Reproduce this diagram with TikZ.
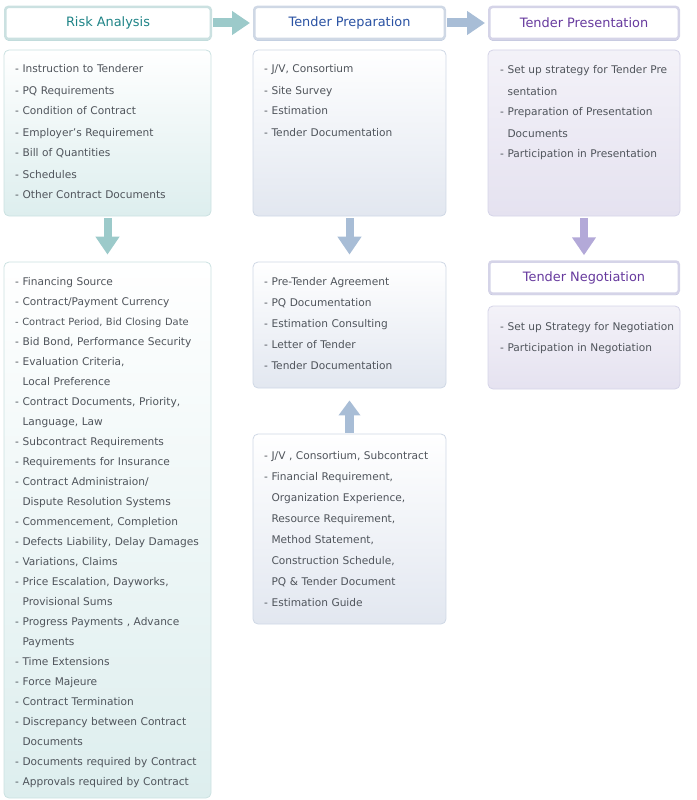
\documentclass[tikz,border=0pt]{standalone}
\usepackage{fontspec}
\setmainfont{DejaVu Sans}
\usepackage{tikz}
\usetikzlibrary{arrows.meta,shadows}

\definecolor{itemgray}{HTML}{4F545B}
\definecolor{riskhead}{HTML}{1F8487}
\definecolor{prephead}{HTML}{2A52A3}
\definecolor{preshead}{HTML}{673A9E}
\definecolor{riskline}{HTML}{CBE1E1}
\definecolor{prepline}{HTML}{CFD8E5}
\definecolor{presline}{HTML}{D5D4E8}
\definecolor{riskshade}{HTML}{A0C8C8}
\definecolor{prepshade}{HTML}{A3B7D2}
\definecolor{presshade}{HTML}{A9ADD0}
\definecolor{riskfill}{HTML}{DDEEEE}
\definecolor{prepfill}{HTML}{E2E7F0}
\definecolor{presfill}{HTML}{E5E2F0}
\definecolor{riskarrow}{HTML}{9CCACA}
\definecolor{preparrow}{HTML}{A8BDD6}
\definecolor{presarrow}{HTML}{B3A9D8}
\newcommand{\wrapin}{\hphantom{-\ }}
\newcommand{\hdfont}{\fontsize{12.9}{15}\selectfont}
\newcommand{\itemfont}{\fontsize{10.6}{21}\selectfont}

\begin{document}
\begin{tikzpicture}[x=1pt,y=-1pt,
  hdbox/.style={draw=#1line, fill=white, line width=2.5pt, rounded corners=3pt,
    minimum height=32pt, font=\hdfont, text=#1head,
    drop shadow={shadow xshift=0pt, shadow yshift=-1.6pt, fill=#1shade, opacity=1}},
  listbox/.style={draw=#1line, line width=0.8pt, rounded corners=5pt,
    top color=white, bottom color=#1fill},
  items/.style={anchor=base west, text width=195pt, align=left, inner sep=0pt,
    font=\itemfont, text=itemgray},
  flowh/.style={line width=9pt, -{Triangle[length=18pt,width=23pt]},
    shorten <=1pt, shorten >=3pt},
  flowv/.style={line width=8pt, -{Triangle[length=18pt,width=23pt]}}]
\useasboundingbox (0,0) rectangle (696,800);

% headers
\node[hdbox=risk, minimum width=205.5pt] (riskhd) at (108,23) {Risk Analysis};
\node[hdbox=prep, minimum width=190.5pt] (prephd) at (349.5,23) {Tender Preparation};
\node[hdbox=pres, minimum width=189.5pt] (preshd) at (584,23) {Tender Presentation};
\node[hdbox=pres, minimum width=189.5pt] (neghd) at (584,277.5) {Tender Negotiation};

% boxes
\node[listbox=risk, minimum width=207pt, minimum height=166pt] (riskA) at (107.5,133) {};
\node[listbox=prep, minimum width=193pt, minimum height=166pt] (prepA) at (349.5,133) {};
\node[listbox=pres, top color=white!55!presfill, minimum width=192pt, minimum height=166pt] (presA) at (584,133) {};
\node[listbox=risk, minimum width=207pt, minimum height=536pt] (riskB) at (107.5,530) {};
\node[listbox=prep, minimum width=193pt, minimum height=126pt] (prepB) at (349.5,325) {};
\node[listbox=prep, minimum width=193pt, minimum height=190pt] (prepC) at (349.5,529) {};
\node[listbox=pres, top color=white!55!presfill, minimum width=192pt, minimum height=83pt] (negA) at (584,347.5) {};

% lists
\node[items] (riskAtxt) at (15,73) {- Instruction to Tenderer\\- PQ Requirements\\
  - Condition of Contract\\- Employer's Requirement\\- Bill of Quantities\\
  - Schedules\\- Other Contract Documents};
\node[items] (prepAtxt) at (264,73) {- J/V, Consortium\\- Site Survey\\
  - Estimation\\- Tender Documentation};
\node[items] (presAtxt) at (500,74) {- Set up strategy for Tender Pre\\\wrapin sentation\\
  - Preparation of Presentation\\\wrapin Documents\\- Participation in Presentation};
\node[items, font=\fontsize{10.6}{20}\selectfont] (riskBtxt) at (15,285) {%
  - Financing Source\\- Contract/Payment Currency\\
  {\fontsize{9.9}{20}\selectfont - Contract Period, Bid Closing Date}\\
  - Bid Bond, Performance Security\\- Evaluation Criteria,\\\wrapin Local Preference\\
  - Contract Documents, Priority,\\\wrapin Language, Law\\
  - Subcontract Requirements\\- Requirements for Insurance\\
  - Contract Administraion/\\\wrapin Dispute Resolution Systems\\
  - Commencement, Completion\\- Defects Liability, Delay Damages\\
  - Variations, Claims\\- Price Escalation, Dayworks,\\\wrapin Provisional Sums\\
  - Progress Payments , Advance\\\wrapin Payments\\- Time Extensions\\
  - Force Majeure\\- Contract Termination\\- Discrepancy between Contract\\
  \wrapin Documents\\- Documents required by Contract\\- Approvals required by Contract};
\node[items] (prepBtxt) at (264,285) {- Pre-Tender Agreement\\- PQ Documentation\\
  - Estimation Consulting\\- Letter of Tender\\- Tender Documentation};
\node[items] (prepCtxt) at (264,459) {- J/V , Consortium, Subcontract\\
  - Financial Requirement,\\\wrapin Organization Experience,\\
  \wrapin Resource Requirement,\\\wrapin Method Statement,\\
  \wrapin Construction Schedule,\\\wrapin PQ \& Tender Document\\- Estimation Guide};
\node[items] (negAtxt) at (500,330) {- Set up Strategy for Negotiation\\
  - Participation in Negotiation};

% arrows
\draw[flowh, draw=riskarrow] (riskhd.east) -- (prephd.west);
\draw[flowh, draw=preparrow] (prephd.east) -- (preshd.west);
\draw[flowv, draw=riskarrow, shorten <=2pt, shorten >=7pt] (riskA.south) -- (riskB.north);
\draw[flowv, draw=preparrow, shorten <=2pt, shorten >=7pt] (prepA.south) -- (prepB.north);
\draw[flowv, draw=presarrow, shorten <=2pt, shorten >=5pt] (presA.south) -- (neghd.north);
\draw[flowv, line width=9pt, draw=preparrow, shorten <=1pt, shorten >=12pt,
  -{Triangle[length=15pt,width=21pt]}] (prepC.north) -- (prepB.south);
\end{tikzpicture}
\end{document}
